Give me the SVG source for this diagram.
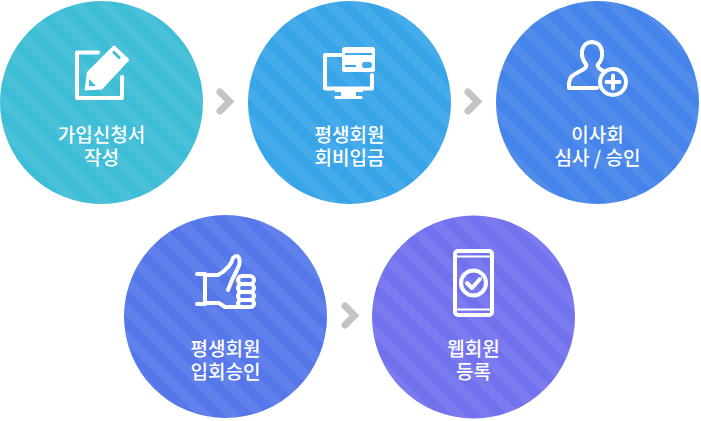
<svg xmlns="http://www.w3.org/2000/svg" width="701" height="421" viewBox="0 0 701 421">
<style>
.t{font-family:"Noto Sans CJK KR","Noto Sans",sans-serif;font-size:19px;font-weight:500;fill:#fff;text-anchor:middle}
.i{fill:none;stroke:#fff;stroke-width:4;stroke-linecap:round;stroke-linejoin:round}
.f{fill:#fff;stroke:none}
.a{fill:none;stroke:#c4c4c4;stroke-width:7;stroke-linecap:round;stroke-linejoin:miter}
</style>
<defs>
<pattern id="s" width="20" height="20" patternUnits="userSpaceOnUse" patternTransform="translate(0 6) rotate(45)"><rect width="20" height="10" fill="#fff" fill-opacity=".065"/></pattern>
</defs>
<rect width="701" height="421" fill="#fff"/>
<g id="connectors">
<path class="a" d="M220 92l9.500 9.500-9.500 9.500"/>
<path class="a" d="M468 92l9.500 9.500-9.500 9.500"/>
<path class="a" d="M345 306l9.500 9.500-9.500 9.500"/>
</g>
<g id="n1">
<circle cx="101.500" cy="102.500" r="101.500" fill="#3dbdd6"/><circle cx="101.500" cy="102.500" r="101.500" fill="url(#s)"/>
<path class="i" d="M98 52.500H77V98H122V77"/>
<path class="f" d="M115 46L128.500 58.500Q129.500 60 128.500 61L102 89.500L84.500 90.500L87 72L113 46Q114 45 115 46Z"/>
<path d="M89 79L89 86L96 86Z" fill="#3dbdd6"/>
<path d="M112 52.500L114 50.500L121 57.500L119 59.500Z" fill="#3dbdd6"/>
<text class="t" x="101.500" y="142">가입신청서</text><text class="t" x="101.500" y="165">작성</text>
</g>
<g id="n2">
<circle cx="349.500" cy="102.500" r="101.500" fill="#38a5e8"/><circle cx="349.500" cy="102.500" r="101.500" fill="url(#s)"/>
<path class="i" d="M341 55H325V88.500H372V75"/>
<path class="f" d="M335 90H363V92H356V96H362Q363 97 362 99H335Q334 97 335 96H341V92H335Z"/>
<path class="f" fill-rule="evenodd" d="M345 47H372Q375 47 375 50V70Q375 72 372 72H345Q342 72 342 70V50Q342 47 345 47ZM345 53V55H372V53ZM345 65V67H356V65ZM364 62Q362 62 362 65Q362 68 364 68H369Q372 68 372 65Q372 62 369 62Z"/>
<text class="t" x="349.500" y="142">평생회원</text><text class="t" x="349.500" y="165">회비입금</text>
</g>
<g id="n3">
<circle cx="597.500" cy="102.500" r="101.500" fill="#4584ea"/><circle cx="597.500" cy="102.500" r="101.500" fill="url(#s)"/>
<path class="i" d="M597 88H569Q568 77 575 74L584 69Q587 67 586 64Q581 58 582 51Q584 42 592 42Q600 42 602 51Q603 60 598 64Q597 67 600 69L605 72"/>
<circle class="i" cx="613" cy="82" r="13"/>
<path class="i" d="M613 75.500V88.500M606.500 82H619.500"/>
<text class="t" x="597.500" y="142">이사회</text><text class="t" x="597.500" y="165">심사 / 승인</text>
</g>
<g id="n4">
<circle cx="225.500" cy="316.500" r="101.500" fill="#5577ea"/><circle cx="225.500" cy="316.500" r="101.500" fill="url(#s)"/>
<path class="i" d="M197 274H205V304H197M205 275H218Q224 272 229 266Q232 262 233 258Q237 254 239 258Q241 263 237 270L232 280L230 285L228 290"/>
<path class="i" d="M205 303H219L225 307H238"/>
<rect class="i" x="238" y="276" width="16" height="8" rx="4"/>
<rect class="i" x="238" y="284" width="16" height="8" rx="4"/>
<rect class="i" x="238" y="292" width="16" height="8" rx="4"/>
<rect class="i" x="238" y="300" width="16" height="7" rx="3.500"/>
<text class="t" x="225.500" y="356">평생회원</text><text class="t" x="225.500" y="379">입회승인</text>
</g>
<g id="n5">
<circle cx="473.500" cy="317" r="101.500" fill="#7272ee"/><circle cx="473.500" cy="317" r="101.500" fill="url(#s)"/>
<rect class="i" x="455" y="251" width="37" height="64" rx="3"/>
<path d="M455 256.500H492M455 309.500H492" fill="none" stroke="#fff" stroke-width="2"/>
<circle class="i" cx="473.500" cy="283" r="12.500"/>
<path class="i" d="M467 283L472 288L480 279"/>
<text class="t" x="473.500" y="356">웹회원</text><text class="t" x="473.500" y="379">등록</text>
</g>
</svg>
